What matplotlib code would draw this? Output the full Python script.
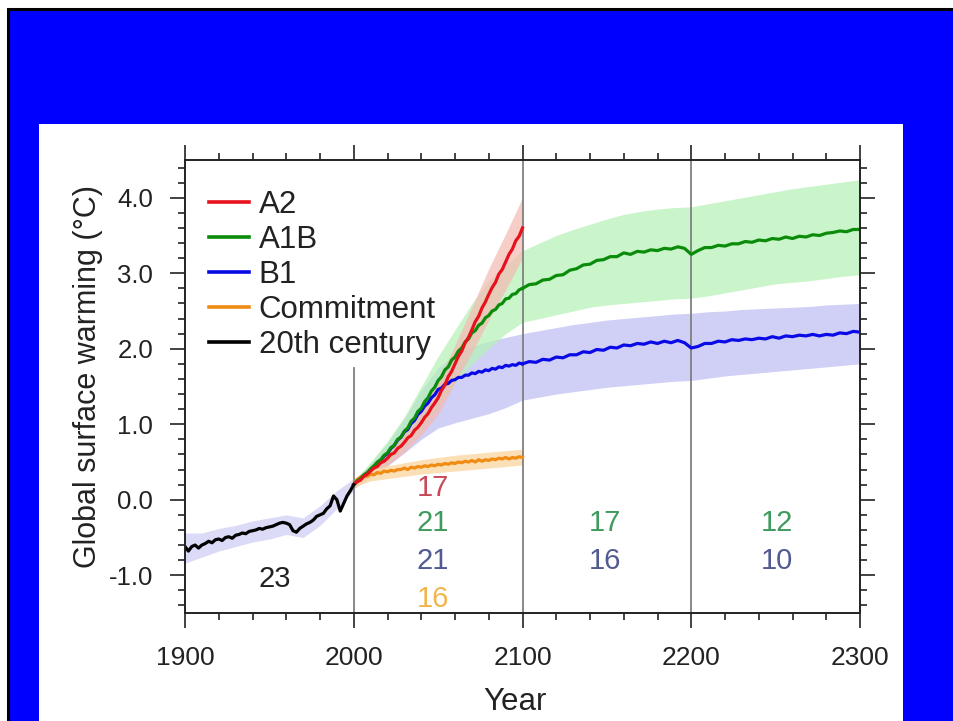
import numpy as np
import matplotlib
matplotlib.use('Agg')
import matplotlib.pyplot as plt
from matplotlib.patches import Rectangle
from matplotlib.ticker import MultipleLocator

plt.rcParams['font.family'] = ['Liberation Sans', 'DejaVu Sans']

# ---- data ----
yr20 = np.arange(1900, 2001, 2)
t20 = [-0.62, -0.68, -0.62, -0.60, -0.64, -0.60, -0.58, -0.55, -0.57, -0.53,
       -0.52, -0.54, -0.50, -0.49, -0.51, -0.47, -0.46, -0.44, -0.45, -0.42,
       -0.41, -0.40, -0.38, -0.39, -0.37, -0.36, -0.35, -0.33, -0.31, -0.30,
       -0.31, -0.33, -0.41, -0.43, -0.38, -0.35, -0.32, -0.30, -0.27, -0.22,
       -0.20, -0.18, -0.12, -0.08, 0.05, 0.00, -0.15, -0.05, 0.05, 0.12, 0.20]

yr21 = np.arange(2000, 2101, 2)
a2 = [0.20, 0.24, 0.26, 0.31, 0.34, 0.38, 0.42, 0.44, 0.49, 0.51, 0.55,
      0.60, 0.62, 0.68, 0.71, 0.76, 0.82, 0.85, 0.92, 0.96, 1.02,
      1.09, 1.14, 1.22, 1.28, 1.35, 1.45, 1.52, 1.63, 1.70, 1.80,
      1.90, 1.97, 2.08, 2.15, 2.25, 2.36, 2.43, 2.54, 2.62, 2.72,
      2.81, 2.88, 2.99, 3.05, 3.15, 3.25, 3.32, 3.43, 3.49, 3.60]
a1b = [0.20, 0.25, 0.28, 0.33, 0.36, 0.41, 0.45, 0.50, 0.53, 0.59, 0.62,
       0.69, 0.72, 0.80, 0.83, 0.91, 0.95, 1.04, 1.08, 1.17, 1.21,
       1.30, 1.35, 1.44, 1.49, 1.58, 1.63, 1.72, 1.76, 1.85, 1.89,
       1.97, 2.01, 2.09, 2.13, 2.21, 2.24, 2.31, 2.34, 2.41, 2.44,
       2.50, 2.52, 2.58, 2.60, 2.66, 2.67, 2.72, 2.73, 2.78, 2.80]
b1 = [0.20, 0.24, 0.27, 0.32, 0.35, 0.40, 0.43, 0.48, 0.52, 0.58, 0.61,
      0.68, 0.72, 0.79, 0.83, 0.90, 0.93, 1.01, 1.05, 1.13, 1.17,
      1.24, 1.28, 1.35, 1.39, 1.46, 1.48, 1.53, 1.54, 1.58, 1.59,
      1.62, 1.62, 1.65, 1.65, 1.68, 1.67, 1.70, 1.69, 1.72, 1.71,
      1.74, 1.73, 1.76, 1.75, 1.78, 1.77, 1.79, 1.78, 1.81, 1.80]
commit = [0.20, 0.27, 0.30, 0.32, 0.31, 0.34, 0.33, 0.36, 0.35, 0.38, 0.37,
          0.39, 0.38, 0.40, 0.40, 0.42, 0.40, 0.43, 0.42, 0.44, 0.43,
          0.45, 0.44, 0.46, 0.45, 0.47, 0.46, 0.48, 0.47, 0.49, 0.48,
          0.50, 0.49, 0.51, 0.50, 0.52, 0.50, 0.53, 0.51, 0.53, 0.52,
          0.54, 0.53, 0.55, 0.54, 0.56, 0.54, 0.56, 0.55, 0.57, 0.56]

yr23 = np.arange(2100, 2301, 4)
a1b_ext = [2.80, 2.85, 2.86, 2.91, 2.92, 2.97, 2.98, 3.04, 3.06, 3.11,
           3.12, 3.17, 3.18, 3.22, 3.22, 3.27, 3.25, 3.29, 3.28, 3.31,
           3.30, 3.33, 3.32, 3.35, 3.33, 3.25, 3.30, 3.34, 3.34, 3.37,
           3.36, 3.39, 3.39, 3.42, 3.41, 3.44, 3.43, 3.46, 3.45, 3.48,
           3.46, 3.49, 3.48, 3.51, 3.50, 3.53, 3.54, 3.56, 3.55, 3.58, 3.58]
b1_ext = [1.80, 1.83, 1.82, 1.86, 1.85, 1.89, 1.88, 1.92, 1.92, 1.96,
          1.95, 1.99, 1.98, 2.02, 2.01, 2.05, 2.04, 2.07, 2.06, 2.09,
          2.07, 2.10, 2.08, 2.11, 2.08, 2.01, 2.03, 2.07, 2.07, 2.10,
          2.09, 2.12, 2.11, 2.13, 2.12, 2.14, 2.13, 2.16, 2.14, 2.17,
          2.16, 2.18, 2.17, 2.19, 2.17, 2.19, 2.18, 2.21, 2.20, 2.23, 2.22]

# spread bands (every 10 years)
band20_yr = np.arange(1900, 2001, 10)
band20_lo = [-0.84, -0.76, -0.68, -0.62, -0.56, -0.52, -0.46, -0.50, -0.34, -0.12, 0.12]
band20_hi = [-0.44, -0.44, -0.38, -0.34, -0.28, -0.24, -0.20, -0.24, -0.08, 0.12, 0.28]

band21_yr = np.arange(2000, 2101, 10)
a2_lo = [0.15, 0.30, 0.45, 0.63, 0.85, 1.13, 1.55, 1.95, 2.38, 2.78, 3.20]
a2_hi = [0.25, 0.45, 0.66, 0.90, 1.20, 1.57, 2.05, 2.55, 3.06, 3.52, 4.00]
commit_lo = [0.17, 0.25, 0.28, 0.31, 0.34, 0.36, 0.38, 0.40, 0.42, 0.44, 0.46]
commit_hi = [0.23, 0.40, 0.45, 0.49, 0.53, 0.56, 0.59, 0.61, 0.63, 0.65, 0.67]

band_yr = np.arange(2000, 2301, 10)
a1b_lo = [0.15, 0.30, 0.48, 0.70, 0.95, 1.25, 1.55, 1.80, 2.00, 2.20, 2.35,
          2.40, 2.45, 2.50, 2.55, 2.58, 2.60, 2.62, 2.64, 2.66, 2.67,
          2.70, 2.74, 2.78, 2.82, 2.86, 2.88, 2.90, 2.93, 2.96, 2.98]
a1b_hi = [0.25, 0.50, 0.78, 1.10, 1.50, 1.90, 2.25, 2.60, 2.90, 3.10, 3.30,
          3.40, 3.50, 3.58, 3.65, 3.72, 3.78, 3.82, 3.85, 3.87, 3.88,
          3.92, 3.96, 4.00, 4.04, 4.08, 4.12, 4.15, 4.18, 4.21, 4.24]
b1_lo = [0.15, 0.30, 0.45, 0.62, 0.80, 0.95, 1.02, 1.08, 1.14, 1.22, 1.32,
         1.36, 1.40, 1.43, 1.46, 1.49, 1.51, 1.53, 1.55, 1.57, 1.58,
         1.61, 1.64, 1.66, 1.68, 1.70, 1.72, 1.74, 1.76, 1.78, 1.80]
b1_hi = [0.25, 0.48, 0.75, 1.08, 1.45, 1.75, 1.92, 2.03, 2.10, 2.15, 2.20,
         2.24, 2.28, 2.32, 2.35, 2.38, 2.40, 2.42, 2.44, 2.46, 2.47,
         2.49, 2.50, 2.52, 2.53, 2.54, 2.55, 2.56, 2.58, 2.59, 2.60]

labels = ['A2', 'A1B', 'B1', 'Commitment', '20th century']
colors = ['#e8101c', '#0a8c0a', '#0a0ae6', '#f08c14', 'black']

# numbers of models per period
counts = [(2047, 0.15, '17', '#c84a58'),
          (2047, -0.31, '21', '#3e9a5e'),
          (2047, -0.81, '21', '#525a92'),
          (2047, -1.32, '16', '#f2b44c'),
          (1953, -1.05, '23', '#222222'),
          (2149, -0.31, '17', '#3e9a5e'),
          (2149, -0.81, '16', '#525a92'),
          (2251, -0.31, '12', '#3e9a5e'),
          (2251, -0.81, '10', '#525a92')]

# ---- figure ----
fig = plt.figure(figsize=(9.54, 7.21), dpi=100, facecolor='white')
fig.add_artist(Rectangle((8.5 / 954, -0.1), 1.2, (721 - 8.5) / 721 + 0.1,
                         transform=fig.transFigure, facecolor='#0000ff',
                         edgecolor='black', lw=2.2, zorder=-10))
fig.add_artist(Rectangle((39 / 954, 0), (903 - 39) / 954, (721 - 124) / 721,
                         transform=fig.transFigure, facecolor='white',
                         edgecolor='none', zorder=-9))

ax = fig.add_axes([185 / 954, (721 - 613) / 721, 675 / 954, 453 / 721])
ax.set_xlim(1900, 2300)
ax.set_ylim(-1.5, 4.5)

ax.fill_between(band20_yr, band20_lo, band20_hi, color='#d2d2f6', lw=0, alpha=0.8)
ax.fill_between(band_yr, b1_lo, b1_hi, color='#c8c8f6', lw=0, alpha=0.85)
ax.fill_between(band_yr, a1b_lo, a1b_hi, color='#b4f2b4', lw=0, alpha=0.7)
ax.fill_between(band21_yr, a2_lo, a2_hi, color='#f4b8b0', lw=0, alpha=0.7)
ax.fill_between(band21_yr, commit_lo, commit_hi, color='#fbd8a4', lw=0, alpha=0.8)

ax.plot([2000, 2000], [-1.5, 1.75], color='#808080', lw=1.3, zorder=1)
ax.axvline(2100, color='#808080', lw=1.3, zorder=1)
ax.axvline(2200, color='#808080', lw=1.3, zorder=1)

lw = 2.3
ax.plot(yr21, commit, color=colors[3], lw=lw)
ax.plot(yr21, b1, color=colors[2], lw=lw)
ax.plot(yr23, b1_ext, color=colors[2], lw=lw)
ax.plot(yr21, a1b, color=colors[1], lw=lw)
ax.plot(yr23, a1b_ext, color=colors[1], lw=lw)
ax.plot(yr21, a2, color=colors[0], lw=lw)
ax.plot(yr20, t20, color=colors[4], lw=lw)

handles = [plt.Line2D([], [], color=c, lw=2.6) for c in colors]
ax.legend(handles, labels, loc='upper left', bbox_to_anchor=(0.035, 0.933),
          frameon=False, fontsize=22.5, handlelength=1.3, handletextpad=0.3,
          labelspacing=0.16, borderpad=0, borderaxespad=0,
          labelcolor='#222222')

for x, y, s, c in counts:
    ax.text(x, y, s, color=c, fontsize=21, ha='center', va='center')

ax.set_xticks([1900, 2000, 2100, 2200, 2300])
ax.set_yticks([-1.0, 0.0, 1.0, 2.0, 3.0, 4.0])
ax.set_yticklabels(['-1.0', '0.0', '1.0', '2.0', '3.0', '4.0'])
ax.xaxis.set_minor_locator(MultipleLocator(20))
ax.yaxis.set_minor_locator(MultipleLocator(0.2))
ax.tick_params(which='both', direction='out', top=True, right=True,
               colors='#222222', width=1.2)
ax.tick_params(which='major', length=11, pad=12)
ax.tick_params(which='minor', length=5)
ax.tick_params(axis='x', which='major', pad=13, labelsize=19)
ax.tick_params(axis='y', which='major', labelsize=18.5)
for s in ax.spines.values():
    s.set_linewidth(1.4)
    s.set_color('#222222')

ax.set_xlabel('Year', fontsize=22.5, color='#222222')
ax.set_ylabel('Global surface warming (°C)', fontsize=22, color='#222222')
ax.xaxis.set_label_coords(0.489, -0.163)
ax.yaxis.set_label_coords(-0.122, 0.521)

fig.savefig('out.png', dpi=100)
